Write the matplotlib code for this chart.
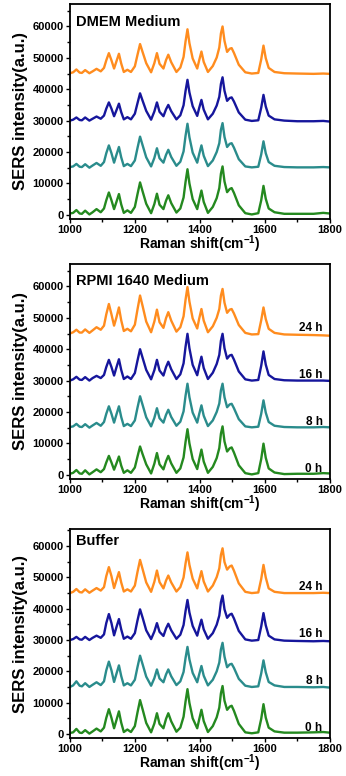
import matplotlib
matplotlib.use("Agg")
import matplotlib.pyplot as plt
from matplotlib.ticker import MultipleLocator

plt.rcParams['font.family'] = ['Liberation Sans', 'DejaVu Sans']
plt.rcParams['font.weight'] = 'bold'
plt.rcParams['mathtext.fontset'] = 'custom'
plt.rcParams['mathtext.rm'] = 'Liberation Sans:bold'
plt.rcParams['mathtext.bf'] = 'Liberation Sans:bold'

# shared Raman shift grid (cm-1)
shift = [1000, 1010, 1020, 1030, 1037, 1047, 1060, 1070, 1082, 1095,
         1105, 1112, 1120, 1128, 1136, 1143, 1151, 1158, 1166, 1177,
         1188, 1200, 1208, 1216, 1224, 1235, 1250, 1260, 1268, 1276,
         1288, 1296, 1303, 1312, 1328, 1340, 1350, 1356, 1362, 1368,
         1378, 1392, 1398, 1405, 1412, 1425, 1440, 1452, 1460, 1465,
         1470, 1476, 1484, 1492, 1498, 1505, 1520, 1540, 1560, 1580,
         1589, 1596, 1603, 1612, 1630, 1660, 1700, 1750, 1780, 1800]

# intensities above each curve's own baseline, in units of 1000
dmem_0h = [0.4, 0.6, 1.5, 0.4, 0.3, 1.3, 0.1, 0.8, 1.8, 0.8,
           2.0, 4.6, 7.1, 4.6, 1.8, 4.0, 6.6, 3.3, 0.6, 1.4,
           0.6, 2.5, 6.5, 10.3, 7.4, 3.5, 0.5, 3.4, 6.7, 3.2,
           1.8, 4.5, 6.2, 3.7, 0.7, 2.0, 5.5, 10.4, 14.5, 10.0,
           5.0, 1.8, 4.6, 7.7, 4.1, 0.6, 2.5, 5.3, 8.5, 13.1,
           15.4, 10.6, 7.2, 8.2, 8.5, 7.0, 3.0, 0.5, 0.1, 0.5,
           4.6, 9.2, 5.1, 2.0, 0.8, 0.3, 0.3, 0.3, 0.6, 0.4]
dmem_8h = [0.2, 0.4, 1.2, 0.3, 0.2, 1.1, 0.0, 0.7, 1.5, 0.6,
           1.8, 4.6, 7.1, 4.6, 1.6, 4.0, 6.6, 3.3, 0.5, 1.2,
           0.5, 2.3, 6.2, 9.9, 7.1, 3.3, 0.4, 3.1, 6.2, 3.0,
           1.6, 4.1, 5.7, 3.4, 0.6, 1.9, 5.2, 10.1, 14.0, 9.7,
           4.8, 1.6, 4.3, 7.1, 3.8, 0.5, 2.3, 5.0, 7.8, 12.1,
           14.2, 9.8, 6.6, 7.6, 7.8, 6.4, 2.7, 0.4, 0.1, 0.3,
           4.2, 8.4, 4.6, 1.8, 0.6, 0.2, 0.1, 0.1, 0.2, 0.1]
dmem_16h = [0.0, 0.3, 1.0, 0.2, 0.1, 1.0, 0.0, 0.6, 1.3, 0.6,
            1.6, 3.8, 5.8, 3.8, 1.4, 3.2, 5.4, 2.7, 0.4, 1.1,
            0.4, 2.2, 5.5, 8.7, 6.3, 3.1, 0.3, 2.9, 5.8, 2.8,
            1.4, 3.6, 5.0, 3.0, 0.4, 1.7, 4.9, 9.4, 13.0, 9.0,
            4.6, 1.5, 4.0, 6.6, 3.5, 0.4, 2.2, 4.8, 7.6, 11.7,
            13.8, 9.5, 6.3, 7.2, 7.4, 6.1, 2.6, 0.3, -0.1, 0.1,
            4.1, 8.2, 4.5, 1.6, 0.4, 0.0, -0.2, -0.2, -0.1, -0.3]
dmem_24h = [0.1, 0.4, 1.3, 0.3, 0.2, 1.1, 0.1, 0.7, 1.5, 0.7,
            1.8, 4.2, 6.5, 4.2, 1.6, 3.8, 6.3, 3.2, 0.5, 1.2,
            0.5, 2.3, 5.9, 9.4, 6.8, 3.3, 0.4, 3.3, 6.5, 3.1,
            1.6, 4.3, 6.0, 3.6, 0.5, 1.9, 5.3, 10.2, 14.1, 9.7,
            4.8, 1.6, 4.2, 7.0, 3.7, 0.5, 2.4, 5.1, 8.3, 12.8,
            15.0, 10.4, 6.9, 7.9, 8.1, 6.6, 2.8, 0.4, 0.0, 0.2,
            4.5, 8.9, 4.9, 1.8, 0.5, 0.1, 0.0, -0.1, 0.0, -0.1]

rpmi_0h = [0.3, 0.6, 1.5, 0.4, 0.3, 1.4, 0.1, 0.8, 1.7, 0.8,
           1.8, 3.9, 6.0, 3.9, 1.6, 3.5, 5.8, 2.9, 0.6, 1.4,
           0.6, 2.3, 5.7, 9.0, 6.5, 3.3, 0.4, 3.5, 6.9, 3.3,
           1.7, 4.3, 6.0, 3.6, 0.6, 2.0, 5.5, 10.4, 14.5, 10.0,
           5.0, 1.8, 4.8, 8.0, 4.2, 0.6, 2.5, 5.3, 8.5, 13.1,
           15.4, 10.6, 7.4, 8.4, 8.7, 7.1, 3.0, 0.5, 0.1, 0.5,
           5.0, 9.9, 5.4, 2.0, 0.7, 0.2, 0.3, 0.3, 0.5, 0.4]
rpmi_8h = [0.2, 0.4, 1.2, 0.3, 0.2, 1.1, 0.0, 0.7, 1.5, 0.6,
           1.8, 4.4, 6.8, 4.4, 1.6, 4.1, 6.8, 3.4, 0.5, 1.2,
           0.5, 2.3, 6.3, 10.0, 7.2, 3.3, 0.4, 3.1, 6.2, 3.0,
           1.6, 4.1, 5.7, 3.4, 0.6, 1.9, 5.2, 10.1, 14.0, 9.7,
           4.8, 1.6, 4.3, 7.1, 3.8, 0.5, 2.3, 5.0, 7.7, 11.9,
           14.0, 9.7, 6.5, 7.4, 7.6, 6.2, 2.7, 0.4, 0.1, 0.3,
           4.4, 8.7, 4.8, 1.8, 0.6, 0.2, 0.1, 0.1, 0.2, 0.1]
rpmi_16h = [0.0, 0.4, 1.2, 0.3, 0.2, 1.1, 0.0, 0.8, 1.5, 0.8,
            1.8, 4.3, 6.6, 4.3, 1.6, 4.1, 6.8, 3.4, 0.5, 1.3,
            0.5, 2.4, 6.3, 10.0, 7.2, 3.4, 0.4, 3.3, 6.6, 3.2,
            1.6, 4.3, 6.0, 3.6, 0.5, 2.0, 5.5, 10.7, 14.9, 10.3,
            5.0, 1.7, 4.6, 7.6, 4.0, 0.5, 2.5, 5.3, 8.2, 12.7,
            14.9, 10.3, 7.0, 8.0, 8.2, 6.7, 2.9, 0.4, 0.0, 0.2,
            4.7, 9.3, 5.1, 1.8, 0.5, 0.1, 0.0, 0.0, 0.0, -0.1]
rpmi_24h = [0.0, 0.4, 1.2, 0.3, 0.3, 1.3, 0.2, 1.0, 2.0, 1.2,
            2.5, 6.1, 9.4, 6.1, 2.5, 5.0, 8.3, 4.2, 0.8, 1.5,
            0.7, 2.8, 7.6, 12.1, 8.7, 3.8, 0.4, 3.8, 7.6, 3.6,
            1.8, 4.9, 6.8, 4.1, 0.6, 2.0, 5.5, 10.7, 14.8, 10.2,
            4.8, 1.6, 4.7, 7.8, 4.1, 0.4, 2.3, 5.0, 7.8, 12.1,
            14.2, 9.8, 6.6, 7.6, 7.8, 6.4, 2.7, 0.2, -0.3, -0.2,
            4.2, 8.3, 4.6, 1.5, 0.2, -0.3, -0.4, -0.5, -0.6, -0.7]

buffer_0h = [0.3, 0.5, 1.6, 0.4, 0.3, 1.2, 0.1, 0.8, 1.7, 0.8,
             2.0, 5.1, 7.9, 5.1, 1.8, 4.3, 7.2, 3.6, 0.6, 1.4,
             0.6, 2.5, 6.8, 10.8, 7.8, 3.5, 0.5, 3.3, 6.6, 3.2,
             1.8, 4.8, 6.6, 4.0, 0.7, 2.0, 5.5, 10.3, 14.3, 9.9,
             5.0, 1.8, 4.6, 7.7, 4.1, 0.6, 2.5, 5.3, 8.4, 13.0,
             15.3, 10.6, 7.7, 8.7, 9.0, 7.4, 3.2, 0.5, 0.2, 0.5,
             4.8, 9.5, 5.2, 2.0, 0.8, 0.4, 0.4, 0.5, 0.6, 0.4]
buffer_8h = [0.0, 0.5, 1.8, 0.4, 0.2, 1.2, 0.0, 0.7, 1.5, 0.6,
             1.8, 5.3, 8.1, 5.3, 1.6, 4.1, 6.9, 3.5, 0.5, 1.2,
             0.5, 2.3, 6.3, 10.0, 7.2, 3.3, 0.4, 2.8, 5.6, 2.7,
             1.5, 4.0, 5.6, 3.4, 0.6, 1.8, 4.8, 9.2, 12.8, 8.8,
             4.5, 1.5, 4.0, 6.7, 3.6, 0.5, 2.3, 5.0, 7.8, 12.0,
             14.1, 9.7, 6.3, 7.2, 7.4, 6.1, 2.6, 0.4, 0.0, 0.2,
             4.3, 8.5, 4.7, 1.6, 0.5, 0.0, 0.0, -0.1, 0.0, -0.2]
buffer_16h = [0.0, 0.3, 1.0, 0.2, 0.1, 1.0, 0.0, 0.7, 1.4, 0.7,
              1.8, 5.4, 8.3, 5.4, 1.5, 4.0, 6.7, 3.4, 0.4, 1.1,
              0.4, 2.2, 6.2, 9.8, 7.1, 3.1, 0.3, 2.7, 5.4, 2.6,
              1.3, 3.7, 5.2, 3.1, 0.4, 1.7, 4.8, 9.2, 12.8, 8.8,
              4.5, 1.4, 3.9, 6.5, 3.4, 0.4, 2.2, 4.9, 7.8, 12.1,
              14.2, 9.8, 7.1, 8.1, 8.4, 6.9, 2.9, 0.2, -0.2, 0.0,
              4.3, 8.6, 4.7, 1.4, 0.2, -0.2, -0.3, -0.4, -0.3, -0.4]
buffer_24h = [0.0, 0.4, 1.3, 0.3, 0.2, 1.2, 0.1, 0.8, 1.6, 0.8,
              1.9, 5.4, 8.3, 5.4, 1.6, 4.0, 6.7, 3.4, 0.5, 1.2,
              0.5, 2.4, 6.7, 10.6, 7.6, 3.4, 0.4, 3.6, 7.2, 3.5,
              1.5, 4.0, 5.6, 3.4, 0.5, 1.9, 5.0, 9.4, 13.0, 9.0,
              4.6, 1.5, 4.2, 7.0, 3.7, 0.5, 2.4, 5.1, 7.9, 12.2,
              14.3, 9.9, 7.5, 8.5, 8.8, 7.2, 3.1, 0.4, 0.0, 0.2,
              4.5, 9.0, 5.0, 1.5, 0.4, 0.0, 0.0, 0.0, 0.1, 0.0]

times = ['0 h', '8 h', '16 h', '24 h']
offsets = [0, 15000, 30000, 45000]
colors = ['#24891f', '#2a8c8c', '#16169c', '#ff8c1e']

panels = [
    ('DMEM Medium', [dmem_0h, dmem_8h, dmem_16h, dmem_24h], False),
    ('RPMI 1640 Medium', [rpmi_0h, rpmi_8h, rpmi_16h, rpmi_24h], True),
    ('Buffer', [buffer_0h, buffer_8h, buffer_16h, buffer_24h], True),
]

fig = plt.figure(figsize=(3.46, 7.76), dpi=100)
boxes = [[0.202, 0.718, 0.751, 0.277],
         [0.202, 0.383, 0.751, 0.277],
         [0.202, 0.0490, 0.751, 0.269]]
tops = [67200, 67200, 65400]
title_y = [0.918, 0.92, 0.943]

for (name, curves, show_time), box, top, ty in zip(panels, boxes, tops, title_y):
    ax = fig.add_axes(box)
    for ys, off, c, t in zip(curves, offsets, colors, times):
        ax.plot(shift, [v * 1000 + off for v in ys], color=c, lw=1.7,
                solid_joinstyle='round', solid_capstyle='round')
        if show_time:
            ax.text(1778, off + 1900, t, ha='right', va='center', fontsize=8.5,
                    fontweight='bold')
    ax.set_xlim(1000, 1800)
    ax.set_ylim(-1300, top)
    ax.xaxis.set_major_locator(MultipleLocator(200))
    ax.xaxis.set_minor_locator(MultipleLocator(100))
    ax.yaxis.set_major_locator(MultipleLocator(10000))
    ax.yaxis.set_minor_locator(MultipleLocator(5000))
    ax.tick_params(which='major', length=3, width=1, labelsize=8, pad=1.5)
    ax.tick_params(which='minor', length=2, width=1)
    for lab in ax.get_xticklabels() + ax.get_yticklabels():
        lab.set_fontweight('bold')
    for s in ax.spines.values():
        s.set_linewidth(1.3)
    ax.text(0.025, ty, name, transform=ax.transAxes, ha='left', va='center',
            fontsize=10.5, fontweight='bold')
    ax.set_xlabel(r'Raman shift(cm$^{-1}$)', fontsize=10, fontweight='bold', labelpad=-1)
    ax.set_ylabel('SERS intensity(a.u.)', fontsize=12, fontweight='bold', labelpad=3)

fig.savefig('out.png', dpi=100)
